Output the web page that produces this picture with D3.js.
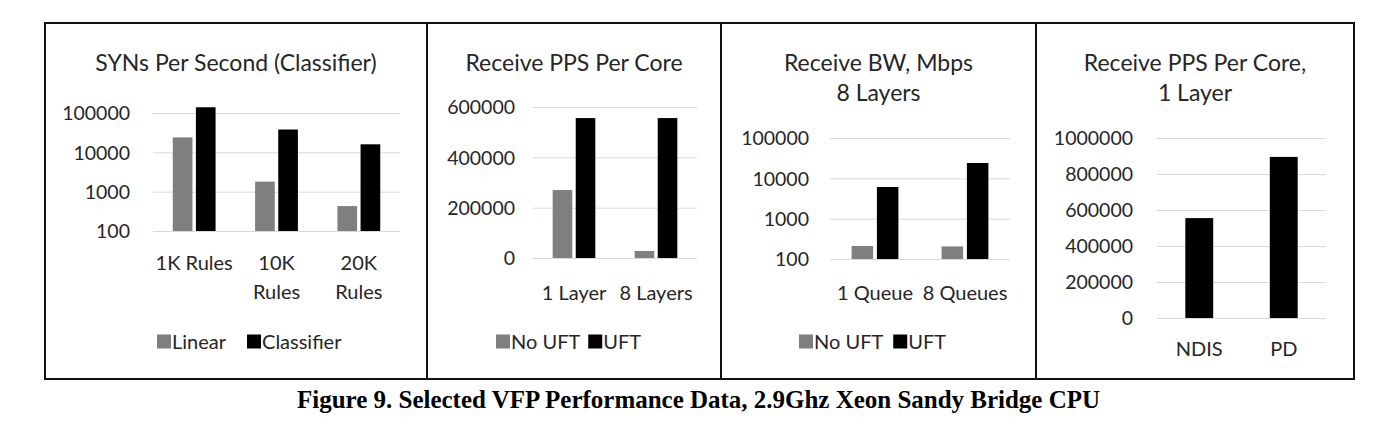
<!DOCTYPE html>
<html><head><meta charset="utf-8">
<script src="https://cdn.jsdelivr.net/npm/d3@7"></script>
<style>
html,body{margin:0;padding:0;background:#fff;}
svg text{font-family:Lato,"Noto Sans",sans-serif;fill:#262626;}
</style></head>
<body><svg id="chart" width="1395" height="423"></svg>
<script>
// ---------- data ----------
const synCategories = ["1K Rules", "10K\nRules", "20K\nRules"];
const synLinear = [24000, 1800, 430];
const synClassifier = [140000, 38000, 16000];
const synTicks = [100, 1000, 10000, 100000];

const ppsCategories = ["1 Layer", "8 Layers"];
const ppsNoUFT = [270000, 28000];
const ppsUFT = [556000, 556000];
const ppsTicks = [0, 200000, 400000, 600000];

const bwCategories = ["1 Queue", "8 Queues"];
const bwNoUFT = [210, 205];
const bwUFT = [6100, 24000];
const bwTicks = [100, 1000, 10000, 100000];

const pdCategories = ["NDIS", "PD"];
const pdValues = [555000, 895000];
const pdTicks = [0, 200000, 400000, 600000, 800000, 1000000];

const caption = "Figure 9. Selected VFP Performance Data, 2.9Ghz Xeon Sandy Bridge CPU";

// ---------- layout ----------
const GRAY = "#7f7f7f", BLACK = "#000000";
const svg = d3.select("#chart");

const panels = [
  {x0:45, x1:427, title:["SYNs Per Second (Classifier)"], titleY:62, log:true,
   domain:[100,100000], ticks:synTicks, plot:[153,400], yr:[231,113], pad:23, catOff:31,
   cats:synCategories, series:[{name:"Linear",vals:synLinear,color:GRAY},{name:"Classifier",vals:synClassifier,color:BLACK}],
   legendX:157, legendGap:21, groupFrac:0.52},
  {x0:427, x1:721, title:["Receive PPS Per Core"], titleY:62, log:false,
   domain:[0,600000], ticks:ppsTicks, plot:[533,697], yr:[258,107], pad:18, catOff:34,
   cats:ppsCategories, series:[{name:"No UFT",vals:ppsNoUFT,color:GRAY},{name:"UFT",vals:ppsUFT,color:BLACK}],
   legendX:496, legendGap:8, groupFrac:0.52},
  {x0:721, x1:1036, title:["Receive BW, Mbps","8 Layers"], titleY:62, log:true,
   domain:[100,100000], ticks:bwTicks, plot:[830,1010], yr:[259,138], pad:21, catOff:33,
   cats:bwCategories, series:[{name:"No UFT",vals:bwNoUFT,color:GRAY},{name:"UFT",vals:bwUFT,color:BLACK}],
   legendX:799, legendGap:10, groupFrac:0.52},
  {x0:1036, x1:1354, title:["Receive PPS Per Core,","1 Layer"], titleY:62, log:false,
   domain:[0,1000000], ticks:pdTicks, plot:[1157,1326], yr:[318,138], pad:24, catOff:30,
   cats:pdCategories, series:[{name:"PD",vals:pdValues,color:BLACK}],
   legendX:null, groupFrac:0.33}
];

const LINE_H = 29;
const FS = "20px";

panels.forEach(p => {
  const g = svg.append("g");
  // title
  p.title.forEach((t,i) => {
    g.append("text").attr("x",(p.x0+p.x1)/2).attr("y",p.titleY+i*30)
      .attr("text-anchor","middle").attr("dominant-baseline","central")
      .style("font-size","23px").text(t);
  });
  const y = p.log ? d3.scaleLog().domain(p.domain).range(p.yr)
                  : d3.scaleLinear().domain(p.domain).range(p.yr);
  const width = p.plot[1]-p.plot[0];
  const yAxis = d3.axisLeft(y).tickValues(p.ticks).tickFormat(d3.format("d"))
      .tickSizeInner(-width).tickSizeOuter(0).tickPadding(p.pad);
  const ag = g.append("g").attr("transform",`translate(${p.plot[0]},0)`).call(yAxis);
  ag.select(".domain").remove();
  ag.selectAll(".tick line").attr("stroke","#d9d9d9").attr("stroke-width",1);
  ag.selectAll(".tick text").style("font-size","19.5px").style("font-family","Lato,sans-serif")
    .attr("fill","#262626").attr("dy","0.35em");

  const x0 = d3.scaleBand().domain(p.cats).range(p.plot).padding(0);
  const gw = x0.bandwidth()*p.groupFrac;
  const x1 = d3.scaleBand().domain(p.series.map(s=>s.name)).range([0,gw]).paddingInner(p.series.length>1?0.15:0);
  const base = p.log ? p.domain[0] : 0;
  p.series.forEach(s => {
    g.append("g").selectAll("rect").data(p.cats.map((c,i)=>({c, v:s.vals[i]}))).join("rect")
      .attr("x", d => x0(d.c) + (x0.bandwidth()-gw)/2 + x1(s.name))
      .attr("width", x1.bandwidth())
      .attr("y", d => y(d.v))
      .attr("height", d => y(base) - y(d.v))
      .attr("fill", s.color);
  });
  // category axis
  const xAxis = d3.axisBottom(x0).tickSize(0).tickFormat(()=>"");
  const xg = g.append("g").attr("transform",`translate(0,${p.yr[0]})`).call(xAxis);
  xg.select(".domain").remove();
  xg.selectAll(".tick").each(function(d){
    const lines = d.split("\n");
    const t = d3.select(this).select("text").text(null)
      .attr("y", p.catOff).attr("dy",null).attr("dominant-baseline","central")
      .style("font-size",FS).style("font-family","Lato,sans-serif").attr("fill","#262626");
    lines.forEach((l,i)=> t.append("tspan").attr("x",0).attr("y",p.catOff+i*LINE_H).text(l));
  });
  // legend
  if (p.legendX !== null) {
    let lx = p.legendX;
    p.series.forEach(s => {
      g.append("rect").attr("x",lx).attr("y",334.5).attr("width",14).attr("height",14).attr("fill",s.color);
      const t = g.append("text").attr("x",lx+15).attr("y",341).attr("dominant-baseline","central")
        .style("font-size",FS).text(s.name);
      lx = lx + 15 + t.node().getComputedTextLength() + p.legendGap;
    });
  }
});

// borders
const bx = [45,427,721,1036,1354];
svg.append("rect").attr("x",45).attr("y",23).attr("width",1354-45).attr("height",379-23)
  .attr("fill","none").attr("stroke","#111").attr("stroke-width",2);
bx.slice(1,-1).forEach(x => svg.append("line").attr("x1",x).attr("x2",x).attr("y1",23).attr("y2",379)
  .attr("stroke","#111").attr("stroke-width",2));

// caption
svg.append("text").attr("x",297).attr("y",408)
  .attr("textLength",803).attr("lengthAdjust","spacingAndGlyphs")
  .style("font-family","'Liberation Serif','Times New Roman',serif").style("font-weight","bold")
  .style("font-size","26px").style("fill","#000").text(caption);
</script></body></html>
